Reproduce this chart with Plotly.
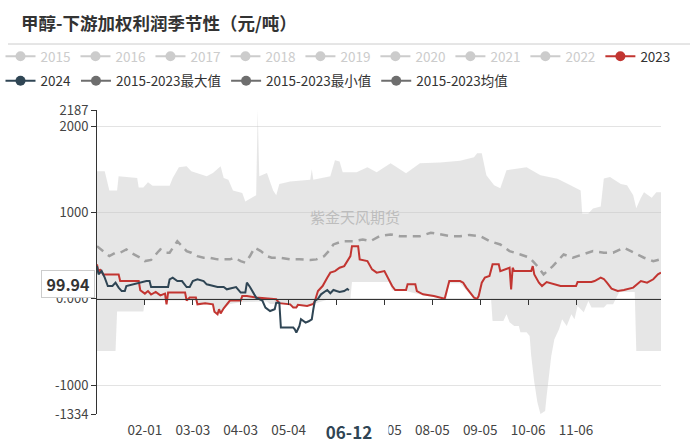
import plotly.graph_objects as go

YEAR = "2024"  # calendar used for the seasonal month-day axis (366 days)

# ---------- data (month-day, value) ----------
d2023 = ["01-01","01-02","01-03","01-05","01-15","01-16","01-28","01-29","02-01","02-03","02-05","02-08","02-11","02-14","02-15","02-16","02-27","02-28","03-01","03-05","03-06","03-11","03-16","03-17","03-19","03-20","03-21","03-23","03-27","04-03","04-04","04-07","04-13","04-20","04-26","04-28","05-05","05-07","05-09","05-10","05-16","05-20","05-21","05-23","05-26","05-29","05-31","06-03","06-06","06-09","06-13","06-14","06-18","06-19","06-24","06-27","06-30","07-05","07-10","07-12","07-19","07-20","07-25","07-26","07-30","08-06","08-10","08-13","08-16","08-23","08-25","08-27","09-01","09-03","09-04","09-06","09-08","09-11","09-13","09-17","09-18","09-21","09-24","09-25","09-26","09-27","10-08","10-09","10-10","10-13","10-15","10-18","10-24","10-27","11-06","11-07","11-16","11-18","11-22","11-24","11-26","11-29","12-03","12-07","12-13","12-18","12-22","12-26","12-29","12-31"]
v2023 = [399,303,341,283,283,206,206,100,60,90,50,80,40,60,-64,72,72,-20,14,14,-64,-50,-64,-150,-180,-120,-170,-110,-20,-20,32,32,14,0,-5,-50,-64,-100,-100,-70,-83,-60,-25,90,148,245,303,321,360,379,495,610,610,457,437,341,303,321,148,102,102,168,168,90,52,32,14,0,206,206,187,130,14,0,32,187,245,264,399,399,321,340,360,110,360,321,321,379,283,187,148,194,168,148,148,194,194,206,245,230,187,118,90,102,130,206,187,226,283,303]

d2024 = ["01-01","01-02","01-04","01-06","01-08","01-11","01-13","01-15","01-17","01-19","01-20","01-25","01-28","02-02","02-04","02-05","02-16","02-17","02-19","02-22","02-25","02-28","03-01","03-03","03-06","03-10","03-12","03-16","03-19","03-23","03-25","03-31","04-03","04-06","04-07","04-09","04-11","04-13","04-17","04-19","04-22","04-25","04-26","04-28","04-29","05-07","05-08","05-09","05-10","05-11","05-12","05-15","05-17","05-19","05-20","05-21","05-23","05-25","05-28","05-29","05-31","06-02","06-04","06-06","06-09","06-11","06-12"]
v2024 = [379,283,321,245,148,148,187,130,90,90,148,168,187,206,206,137,137,225,245,206,206,137,137,206,225,206,168,148,137,137,110,137,72,72,187,137,72,14,-20,-102,-141,-120,-45,-45,-333,-333,-353,-391,-353,-314,-237,-275,-260,-237,-121,-25,0,52,90,102,64,102,90,79,90,115,99.94]

d_mean = ["01-01","01-05","01-09","01-13","01-16","01-20","01-23","01-27","01-29","02-01","02-05","02-09","02-11","02-14","02-17","02-22","02-25","02-28","03-02","03-06","03-10","03-14","03-19","03-23","03-27","03-30","04-03","04-06","04-09","04-12","04-16","04-20","04-23","04-28","05-05","05-11","05-18","05-22","05-27","05-30","06-02","06-08","06-15","06-21","06-26","07-02","07-09","07-15","07-22","07-28","08-04","08-10","08-17","08-23","08-29","09-05","09-11","09-18","09-24","10-01","10-07","10-12","10-16","10-22","10-29","11-04","11-11","11-17","11-24","11-30","12-07","12-13","12-20","12-26","12-31"]
v_mean = [610,553,495,534,534,572,534,495,476,437,450,534,572,534,534,668,610,553,534,495,476,476,457,457,457,476,437,418,495,592,553,495,476,476,457,457,450,457,495,553,630,668,668,688,668,726,746,726,726,726,765,746,726,726,740,726,668,630,553,514,476,379,283,379,514,476,514,553,534,534,592,534,476,437,460]

d_max = ["01-01","01-06","01-09","01-14","01-15","01-27","01-28","01-31","02-03","02-06","02-17","02-19","02-23","02-28","03-02","03-08","03-12","03-16","03-21","03-23","03-26","03-29","04-04","04-06","04-13","04-14","04-15","04-20","04-24","04-26","04-28","05-05","05-16","05-18","05-19","05-20","05-31","06-03","06-06","06-08","06-17","06-24","06-30","07-09","07-19","07-28","08-10","08-23","09-01","09-03","09-06","09-09","09-14","09-18","09-22","10-05","10-14","10-25","11-04","11-09","11-10","11-14","11-17","11-22","11-24","11-28","12-05","12-09","12-13","12-15","12-18","12-20","12-25","12-28","12-31"]
v_max = [1477,1477,1256,1256,1419,1400,1290,1290,1349,1310,1310,1400,1523,1535,1477,1438,1419,1457,1535,1400,1380,1256,1225,1128,1200,2187,1419,1457,1256,1200,1330,1360,1380,1380,1500,1380,1419,1605,1590,1465,1465,1523,1465,1570,1453,1570,1580,1600,1640,1686,1686,1430,1314,1280,1488,1523,1430,1390,1300,1256,988,988,1047,1070,1395,1410,1330,1314,1200,1050,1170,1233,1170,1233,1233]

d_min = ["01-01","01-13","01-14","01-31","02-01","02-14","02-15","02-16","03-05","03-06","03-16","03-17","03-19","03-20","03-21","03-23","03-27","04-03","04-20","04-22","05-05","05-07","05-09","05-10","05-16","05-20","05-31","06-13","06-14","07-08","07-09","07-10","07-19","07-26","07-30","08-06","08-10","08-13","08-14","08-16","08-23","08-27","09-01","09-03","09-12","09-13","09-20","09-22","09-24","09-27","09-30","10-01","10-05","10-07","10-08","10-10","10-12","10-14","10-17","10-18","10-20","10-21","10-23","10-26","10-28","10-31","11-03","11-05","11-07","11-11","11-14","11-16","11-24","11-26","11-30","12-01","12-04","12-14","12-15","12-31"]
v_min = [-603,-603,-148,-148,-20,-20,-64,-20,-20,-64,-64,-150,-180,-120,-170,-110,-60,-40,-30,-60,-64,-100,-100,-70,-83,-60,0,0,195,195,150,100,90,60,40,20,10,0,0,180,180,100,10,0,0,-256,-256,-180,-272,-314,-314,-387,-387,-430,-660,-965,-1197,-1334,-1300,-1123,-850,-660,-468,-353,-237,-314,-180,-237,-83,-156,-25,-100,-100,-64,-64,-25,80,80,-603,-603]

x_tick_dates = ["02-01","03-03","04-03","05-04","06-04","07-05","08-05","09-05","10-06","11-06"]
# the 06-04 label sits under the 06-12 pointer label in the reference
x_tick_labels = ["02-01","03-03","04-03","05-04","","07-05","08-05","09-05","10-06","11-06"]
y_tick_vals = [-1334, -1000, 0, 1000, 2000, 2187]
y_tick_text = ["-1334", "-1000", "0.000", "1000", "2000", "2187"]

grey_years = ["2015","2016","2017","2018","2019","2020","2021","2022"]
name_2023 = "2023"
name_2024 = "2024"
name_max = "2015-2023最大值"
name_min = "2015-2023最小值"
name_mean = "2015-2023均值"
hover_date = "06-12"
hover_value = 99.94
title_text = "甲醇-下游加权利润季节性（元/吨）"
watermark = "紫金天风期货"

def dt(lst):
    return [f"{YEAR}-{s}" for s in lst]

FONT = "Noto Sans CJK SC, Noto Sans, sans-serif"
RED = "#c23531"
NAVY = "#2f4554"
BAND = "rgba(195,195,195,0.42)"

fig = go.Figure()
# band between max and min
fig.add_trace(go.Scatter(x=dt(d_max), y=v_max, mode="lines", line=dict(width=0, color=BAND),
                         showlegend=False, hoverinfo="skip"))
fig.add_trace(go.Scatter(x=dt(d_min), y=v_min, mode="lines", line=dict(width=0, color=BAND),
                         fill="tonexty", fillcolor=BAND, showlegend=False, hoverinfo="skip"))
# mean dashed
fig.add_trace(go.Scatter(x=dt(d_mean), y=v_mean, mode="lines",
                         line=dict(width=2.5, color="#a0a0a0", dash="8px,6px"), showlegend=False))
fig.add_trace(go.Scatter(x=dt(d2023), y=v2023, mode="lines", line=dict(width=2, color=RED), showlegend=False))
fig.add_trace(go.Scatter(x=dt(d2024), y=v2024, mode="lines", line=dict(width=2, color=NAVY), showlegend=False))
# tick axis on the zero line
fig.add_trace(go.Scatter(x=[None], y=[None], xaxis="x2", showlegend=False))

# legend entries
for y in grey_years:
    fig.add_trace(go.Scatter(x=[None], y=[None], mode="lines+markers",
                             name=f'<span style="color:#cccccc">{y}</span>',
                             line=dict(color="#cccccc", width=2), marker=dict(size=10, color="#cccccc"),
                             legend="legend"))
fig.add_trace(go.Scatter(x=[None], y=[None], mode="lines+markers", name=name_2023,
                         line=dict(color=RED, width=2), marker=dict(size=10, color=RED), legend="legend"))
fig.add_trace(go.Scatter(x=[None], y=[None], mode="lines+markers", name=name_2024,
                         line=dict(color=NAVY, width=2), marker=dict(size=10, color=NAVY), legend="legend2"))
for nm in [name_max, name_min, name_mean]:
    fig.add_trace(go.Scatter(x=[None], y=[None], mode="lines+markers", name=nm,
                             line=dict(color="#6e6e6e", width=2), marker=dict(size=10, color="#6e6e6e"),
                             legend="legend2"))

L, R, T, B, W, H = 97, 5, 110, 28, 700, 442
GW, GH = W - L - R, H - T - B
def px(xp): return (xp - L) / GW
def py(yp): return (H - B - yp) / GH
XDOM = [0, 564 / GW]
xr = [f"{YEAR}-01-01", f"{YEAR}-12-31"]
ymin, ymax = -1334, 2187

fig.update_layout(
    width=W, height=H, margin=dict(l=L, r=R, t=T, b=B, autoexpand=False),
    paper_bgcolor="white", plot_bgcolor="white", hovermode=False,
    font=dict(family=FONT, size=13, color="#333"),
    xaxis=dict(type="date", domain=XDOM, range=xr, tickvals=dt(x_tick_dates), ticktext=x_tick_labels,
               ticks="", showgrid=False, showline=False, zeroline=False, ticklabelstandoff=6,
               tickfont=dict(size=13.5, color="#444")),
    xaxis2=dict(type="date", domain=XDOM, overlaying="x", anchor="free", position=-ymin / (ymax - ymin),
                range=xr, tickvals=dt(x_tick_dates), ticks="outside", ticklen=5, tickcolor="#333",
                showticklabels=False, showgrid=False, showline=True, linecolor="#333", linewidth=1,
                zeroline=False, layer="above traces"),
    yaxis=dict(range=[ymin, ymax], tickvals=y_tick_vals, ticktext=y_tick_text, showgrid=True,
               gridcolor="#e3e3e3", showline=True, linecolor="#333", linewidth=1, ticks="outside",
               ticklen=5, tickcolor="#333", zeroline=False, tickfont=dict(size=13, color="#444"),
               layer="above traces"),
    legend=dict(orientation="h", traceorder="normal", x=px(0.5), xanchor="left", y=py(56.5), yanchor="middle",
                font=dict(size=13.5, color="#333"), bgcolor="rgba(0,0,0,0)"),
    legend2=dict(orientation="h", traceorder="normal", x=px(0.5), xanchor="left", y=py(81), yanchor="middle",
                 font=dict(size=13.5, color="#333"), bgcolor="rgba(0,0,0,0)"),
    shapes=[dict(type="line", xref="paper", yref="paper", x0=px(8), x1=px(690), y0=py(44), y1=py(44),
                 line=dict(color="#cccccc", width=1))],
    annotations=[
        dict(text=f"<b>{title_text}</b>", xref="paper", yref="paper", x=px(19), y=py(22),
             xanchor="left", yanchor="middle", showarrow=False, font=dict(size=17.5, color="#333", family=FONT)),
        dict(text=watermark, xref="paper", yref="paper", x=px(355), y=py(216), showarrow=False,
             font=dict(size=15, color="#bdbdbd", family=FONT)),
        dict(text=f"<b>{hover_value}</b>", xref="paper", yref="y", x=px(95), y=hover_value, yshift=6,
             xanchor="right", yanchor="middle", showarrow=False, bgcolor="white", bordercolor="#cccccc",
             borderwidth=1, borderpad=3, width=46, height=20, font=dict(size=16, color="#333", family=FONT)),
        dict(text=f"<b>{hover_date}</b>", xref="x", yref="paper", x=f"{YEAR}-{hover_date}", y=py(431),
             yanchor="middle", showarrow=False, bgcolor="white", width=76, height=22,
             font=dict(size=17, color="#2f4554", family=FONT)),
    ],
)

fig.write_html("out.html")
